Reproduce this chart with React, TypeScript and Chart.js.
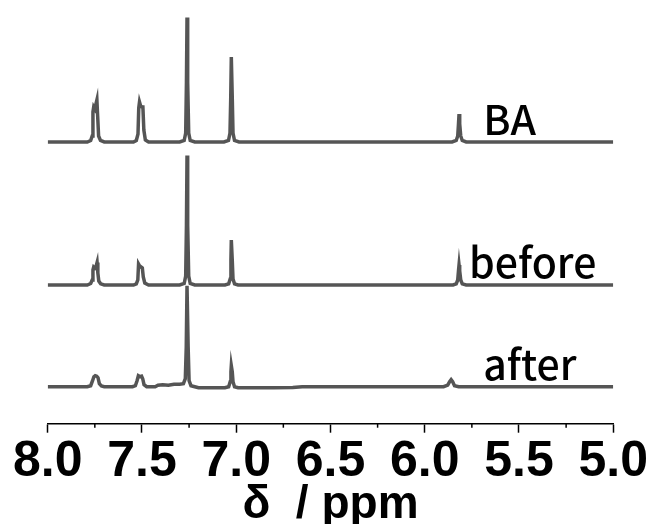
import React, { useEffect, useRef } from "react";
import { Chart, registerables } from "chart.js";

Chart.register(...registerables);

// Series names (drawn next to each trace)
const seriesLabels = ["BA", "before", "after"];
// Vertical stacking offsets (intensity units) for each trace
const seriesOffsets = [281.7, 138.7, 37];
// Where each series label starts along the ppm axis
const labelPpm = [5.69, 5.765, 5.69];

// Chemical shift range and tick values
const ppmMin = 5.0;
const ppmMax = 8.0;
const majorTicks = [8.0, 7.5, 7.0, 6.5, 6.0, 5.5, 5.0];
const minorTicks = [7.75, 7.25, 6.75, 6.25, 5.75, 5.25];

// Spectra: [ppm, intensity]
const baSpectrum: [number, number][] = [
  [8.0, 0], [7.79, 0], [7.772, 1.5], [7.764, 6], [7.76, 30], [7.756, 35], [7.75, 33], [7.744, 38], [7.739, 42], [7.735, 26], [7.73, 6], [7.72, 1.5], [7.7, 0],
  [7.545, 0], [7.53, 1.5], [7.521, 8], [7.517, 34], [7.513, 40], [7.507, 36], [7.5, 35], [7.495, 35], [7.49, 12], [7.482, 2], [7.465, 0],
  [7.3, 0], [7.276, 1.5], [7.268, 9], [7.264, 60], [7.261, 124.5], [7.259, 124.5], [7.256, 60], [7.252, 9], [7.244, 1.5], [7.22, 0],
  [7.065, 0], [7.041, 1.5], [7.033, 9], [7.029, 45], [7.026, 85], [7.024, 85], [7.021, 45], [7.017, 9], [7.009, 1.5], [6.985, 0],
  [5.855, 0], [5.833, 1.5], [5.825, 6], [5.821, 18], [5.818, 28], [5.816, 28], [5.813, 18], [5.809, 6], [5.801, 1.5], [5.78, 0],
  [5.0, 0],
];

const beforeSpectrum: [number, number][] = [
  [8.0, 0], [7.79, 0], [7.772, 1.5], [7.764, 5], [7.76, 15], [7.756, 18], [7.75, 17], [7.743, 19], [7.738, 22.5], [7.734, 12], [7.729, 4], [7.719, 1.2], [7.7, 0],
  [7.545, 0], [7.53, 1.2], [7.522, 5], [7.518, 21], [7.512, 19], [7.505, 18], [7.498, 17], [7.493, 8], [7.485, 2], [7.465, 0],
  [7.3, 0], [7.276, 1.5], [7.268, 9], [7.264, 60], [7.261, 129.5], [7.259, 129.5], [7.256, 60], [7.252, 9], [7.244, 1.5], [7.22, 0],
  [7.06, 0], [7.04, 1.2], [7.032, 6], [7.028, 25], [7.026, 45], [7.024, 45], [7.021, 25], [7.017, 6], [7.009, 1.2], [6.99, 0],
  [5.85, 0], [5.833, 1.2], [5.825, 5], [5.821, 14], [5.818, 20], [5.816, 20], [5.813, 14], [5.809, 5], [5.801, 1.2], [5.78, 0],
  [5.0, 0],
];

const afterSpectrum: [number, number][] = [
  [8.0, 0], [7.79, 0], [7.772, 1], [7.762, 6], [7.755, 10], [7.748, 11], [7.74, 10.5], [7.733, 9], [7.726, 3], [7.715, 0.8], [7.7, 0],
  [7.55, 0], [7.535, 1], [7.526, 6], [7.519, 11], [7.51, 10], [7.502, 10.5], [7.496, 8], [7.489, 2], [7.475, 0],
  [7.43, 0], [7.415, 1.5], [7.39, 2], [7.36, 1.5], [7.33, 2.5], [7.3, 2.5], [7.28, 3], [7.27, 8], [7.265, 40], [7.261, 101], [7.259, 101], [7.255, 40], [7.25, 6], [7.24, 1], [7.22, 0], [7.2, -1],
  [7.06, -1], [7.04, 0], [7.032, 5], [7.028, 15], [7.026, 21], [7.024, 21], [7.021, 15], [7.017, 5], [7.009, 0], [6.99, -1],
  [6.8, -1], [6.7, -0.8], [6.65, 0],
  [5.9, 0], [5.878, 1.5], [5.868, 5], [5.86, 7], [5.852, 5], [5.842, 1], [5.82, 0],
  [5.0, 0],
];

const spectra = [baSpectrum, beforeSpectrum, afterSpectrum];

const minorTickPlugin = {
  id: "minorTicks",
  afterDraw(chart: any) {
    const xs = chart.scales.x;
    const ctx = chart.ctx;
    ctx.save();
    ctx.strokeStyle = "#000";
    ctx.lineWidth = 1.5;
    const y0 = xs.top;
    minorTicks.forEach((v) => {
      const px = xs.getPixelForValue(v);
      ctx.beginPath();
      ctx.moveTo(px, y0);
      ctx.lineTo(px, y0 + 4);
      ctx.stroke();
    });
    ctx.restore();
  },
};

const seriesLabelPlugin = {
  id: "seriesLabels",
  afterDatasetsDraw(chart: any) {
    const xs = chart.scales.x;
    const ys = chart.scales.y;
    const ctx = chart.ctx;
    ctx.save();
    ctx.fillStyle = "#000";
    ctx.font = '500 41px "Noto Sans CJK SC", "Noto Sans", sans-serif';
    ctx.textAlign = "left";
    ctx.textBaseline = "alphabetic";
    seriesLabels.forEach((label, i) => {
      const px = xs.getPixelForValue(labelPpm[i]);
      const py = ys.getPixelForValue(seriesOffsets[i]) - 7;
      ctx.fillText(label, px, py);
    });
    ctx.restore();
  },
};

export default function App() {
  const canvasRef = useRef<HTMLCanvasElement | null>(null);

  useEffect(() => {
    if (!canvasRef.current) return;
    const chart = new Chart(canvasRef.current, {
      type: "line",
      data: {
        datasets: spectra.map((spec, i) => ({
          label: seriesLabels[i],
          data: spec.map(([x, v]) => ({ x, y: v + seriesOffsets[i] })),
          borderColor: "#555555",
          borderWidth: 3.5,
          pointRadius: 0,
          tension: 0,
          fill: false,
        })),
      },
      options: {
        responsive: false,
        animation: false,
        devicePixelRatio: 1,
        layout: { padding: { left: 47.7, right: 37.3, top: 0, bottom: 0 } },
        plugins: {
          legend: { display: false },
          tooltip: { enabled: false },
        },
        scales: {
          x: {
            type: "linear",
            min: ppmMin,
            max: ppmMax,
            reverse: true,
            border: { display: true, color: "#000", width: 1.5 },
            grid: {
              display: true,
              drawOnChartArea: false,
              drawTicks: true,
              tickLength: 9,
              tickColor: "#000",
              tickWidth: 1.5,
            },
            afterBuildTicks: (scale: any) => {
              scale.ticks = majorTicks.map((v) => ({ value: v }));
            },
            afterFit: (scale: any) => {
              scale.height = 100.3;
            },
            ticks: {
              autoSkip: false,
              maxRotation: 0,
              padding: 5,
              color: "#000",
              font: { family: "Liberation Sans", weight: "bold", size: 50, lineHeight: 1 },
              callback: (v: any) => Number(v).toFixed(1),
            },
            title: {
              display: true,
              text: "δ  / ppm",
              color: "#000",
              font: { family: "Liberation Sans", weight: "bold", size: 46, lineHeight: 1 },
              padding: { top: 0, bottom: -4 },
            },
          },
          y: {
            display: false,
            min: 0,
            max: 423.7,
          },
        },
      },
      plugins: [minorTickPlugin, seriesLabelPlugin],
    } as any);
    return () => chart.destroy();
  }, []);

  return (
    <div style={{ position: "absolute", left: 0, top: 0, width: 653, height: 524, background: "#fff" }}>
      <canvas ref={canvasRef} width={653} height={524} />
    </div>
  );
}
